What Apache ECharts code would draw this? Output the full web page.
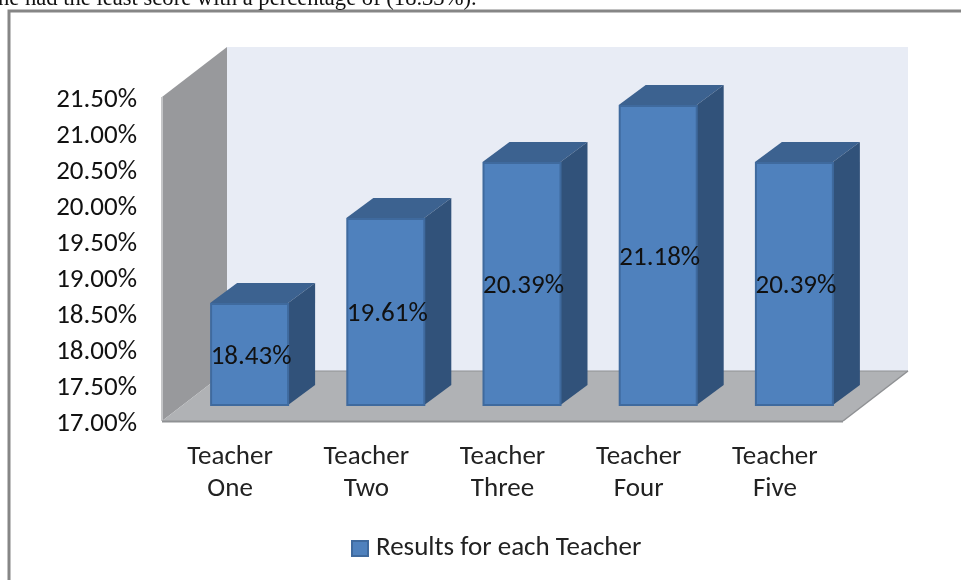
<!DOCTYPE html>
<html><head><meta charset="utf-8">
<style>html,body{margin:0;padding:0;background:#fff}#c{width:961px;height:580px}</style>
<script src="https://cdn.jsdelivr.net/npm/echarts@6/dist/echarts.min.js"></script>
</head><body><div id="c"></div>
<script>
const categories = ['Teacher\nOne','Teacher\nTwo','Teacher\nThree','Teacher\nFour','Teacher\nFive'];
const seriesName = 'Results for each Teacher';
const values = [18.43,19.61,20.39,21.18,20.39];
const yMin = 17, yMax = 21.5, yStep = 0.5;
const chart = echarts.init(document.getElementById('c'));
const FONT = 'Carlito, "Open Sans", "Noto Sans", sans-serif';
const wallDX = 65, wallDY = -50;
const barOffX = 19, barOffY = -16, depthX = 27, depthY = -20;
const cFront='#4f81bd', cTop='#3c6290', cSide='#31527a', cEdge='#3f6a9e';

function poly(pts, fill, stroke){
  return {type:'polygon',shape:{points:pts},style:{fill:fill,stroke:stroke||null,lineWidth:stroke?1:0}};
}
chart.setOption({
  animation:false,
  backgroundColor:'#fff',
  legend:{show:true,top:530,left:346,itemWidth:16,itemHeight:15,icon:'rect',
    data:[{name:seriesName,itemStyle:{color:cFront,borderColor:cEdge,borderWidth:2}}],
    textStyle:{fontFamily:FONT,fontSize:27,color:'#222',padding:[0,0,0,3]},itemGap:5},
  grid:{left:162,right:961-843,top:97,bottom:580-421,containLabel:false},
  xAxis:{type:'category',data:categories,axisLine:{show:false},axisTick:{show:false},
    axisLabel:{fontFamily:FONT,fontSize:27,color:'#222',lineHeight:32,margin:20,interval:0}},
  yAxis:{type:'value',min:yMin,max:yMax,interval:yStep,axisLine:{show:false},axisTick:{show:false},
    splitLine:{show:false},
    axisLabel:{fontFamily:FONT,fontSize:27,color:'#111',margin:25,verticalAlign:'top',lineHeight:6,formatter:v=>v.toFixed(2)+'%'}},
  graphic:{elements:[
    {type:'rect',z:100,shape:{x:9,y:11,width:1000,height:700},style:{fill:null,stroke:'#868686',lineWidth:3}},
    {type:'text',z:100,left:-2,top:-12,style:{text:'ne had the least score with a percentage of (18.33%).',
      font:'22.6px "Liberation Serif", serif',fill:'#111'}}
  ]},
  series:[
    {type:'custom',name:'walls',silent:true,z:1,legendHoverLink:false,
     coordinateSystem:'cartesian2d',data:[[0,yMin]],
     renderItem(params,api){
       const r=params.coordSys, x0=r.x, x1=r.x+r.width, t=r.y, b=r.y+r.height;
       return {type:'group',children:[
         poly([[x0+wallDX,t+wallDY],[x1+wallDX,t+wallDY],[x1+wallDX,b+wallDY],[x0+wallDX,b+wallDY]],'#e8ecf5'),
         poly([[x0,t],[x0+wallDX,t+wallDY],[x0+wallDX,b+wallDY],[x0,b]],'#98999c'),
         {type:'line',shape:{x1:x0,y1:t,x2:x0,y2:b},style:{stroke:'#c4c5c7',lineWidth:2}},
         poly([[x0,b],[x0+wallDX,b+wallDY],[x1+wallDX,b+wallDY],[x1,b]],'#b0b2b5'),
         {type:'line',shape:{x1:x0+wallDX,y1:b+wallDY,x2:x1+wallDX,y2:b+wallDY},style:{stroke:'#8f9194',lineWidth:1}},
         {type:'line',shape:{x1:x1,y1:b,x2:x1+wallDX,y2:b+wallDY},style:{stroke:'#8f9194',lineWidth:1.5}},
         {type:'line',shape:{x1:x0,y1:b+0.5,x2:x1,y2:b+0.5},style:{stroke:'#8f9194',lineWidth:2}}
       ]};
     }},
    {type:'custom',name:seriesName,z:2,coordinateSystem:'cartesian2d',
     data:values.map((v,i)=>[i,v]),
     encode:{x:0,y:1},
     renderItem(params,api){
       const c=api.coord([api.value(0),api.value(1)]);
       const base=api.coord([api.value(0),yMin]);
       const w=78;
       const l=c[0]-w/2+barOffX, rr=l+w, t=c[1]+barOffY+1, b=base[1]+barOffY;
       const label=api.value(1).toFixed(2)+'%';
       return {type:'group',children:[
         poly([[l,t],[l+depthX,t+depthY],[rr+depthX,t+depthY],[rr,t]],cTop),
         poly([[rr,t],[rr+depthX,t+depthY],[rr+depthX,b+depthY],[rr,b]],cSide),
         {type:'rect',shape:{x:l+1,y:t+1,width:w-1,height:b-t-1},style:{fill:cFront,stroke:cEdge,lineWidth:2}},
         {type:'text',style:{x:l+w/2+2,y:(t+b)/2+3,text:label,align:'center',verticalAlign:'middle',
           font:'27px '+FONT,fill:'#111'}}
       ]};
     }}
  ]
});
</script></body></html>
